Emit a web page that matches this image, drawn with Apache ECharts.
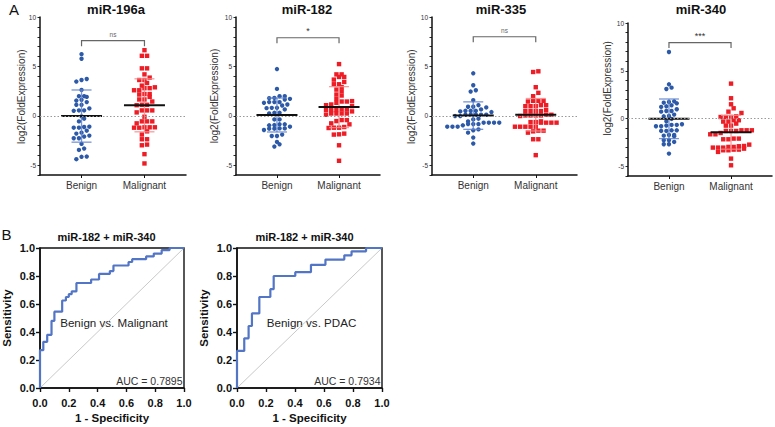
<!DOCTYPE html>
<html>
<head>
<meta charset="utf-8">
<script src="https://cdn.jsdelivr.net/npm/echarts@6/dist/echarts.min.js"></script>
<style>
html,body{margin:0;padding:0;background:#fff;}
#chart{width:775px;height:427px;}
</style>
</head>
<body>
<div id="chart"></div>
<script>
// ---------------- DATA ----------------
const categories = ['Benign', 'Malignant'];
const panelTitles = ['miR-196a', 'miR-182', 'miR-335', 'miR-340'];
const sigLabels = ['ns', '*', 'ns', '***'];
const sigLevels = [7.6, 7.9, 8.0, 7.95];
const yTickValues = [-5, 0, 5, 10];
const yMinorTickValues = [-6, -5, -4, -3, -2, -1, 0, 1, 2, 3, 4, 5, 6, 7, 8, 9, 10];
const yLabelText = 'log2(FoldExpression)';

const benign196a = [6.24, 5.77, 3.72, 3.46, 3.62, 2.62, 1.98, 1.98, 1.91, 1.54, 1.61, 1.38, 1.11, 1.11, 0.74, 0.54, 0.50, 0.54,
  -0.07, -0.30, -0.57, -1.14, -1.21, -1.21, -1.11, -1.51, -1.71, -1.81, -2.01, -2.28, -2.28, -2.11, -2.85, -3.32, -3.46, -4.13, -4.16, -4.40];
const malignant196a = [6.64, 6.07, 6.07, 4.80, 4.80, 4.19, 3.62, 3.86, 3.62, 3.32, 3.05, 2.88, 2.58, 2.79, 2.79, 2.58, 2.20, 2.20, 2.15,
  1.65, 1.91, 1.44, 1.65, 1.11, 1.11, 1.07, 0.54, 0.54, 0.54, 0.34, -0.10, -0.57, -0.57, -0.57, -1.21, -1.17, -1.17, -1.17, -0.77, -1.21,
  -1.58, -1.90, -2.38, -2.38, -2.92, -2.99, -3.89, -4.83];

const benign182 = [4.73, 2.72, 1.71, 1.81, 1.98, 1.78, 1.98, 1.64, 1.38, 1.38, 1.38, 1.31, 1.14, 0.80, 0.64, 1.04, 0.80, 0.77, 0.30, 0.23, 0.30,
  -0.37, -0.37, -0.87, -0.87, -0.97, -1.11, -0.94, -1.28, -1.28, -1.31, -1.44, -1.31, -2.05, -1.91, -2.05, -2.65, -2.89, -3.12];
const malignant182 = [5.23, 4.19, 4.19, 3.93, 3.93, 3.66, 3.42, 3.19, 3.19, 2.89, 2.65, 2.48, 2.15, 2.05, 1.71, 1.48, 1.44, 1.44, 1.31,
  1.14, 0.97, 1.07, 0.64, 0.64, 0.57, 0.57, 0.57, 0.44, 0.23, 0.23, 0.23, 0.10, 0.23, -0.44, -0.54, -0.44, -0.87, -0.77,
  -1.14, -1.21, -1.21, -1.24, -1.88, -1.81, -1.91, -2.99, -4.56];

const benign335 = [4.30, 3.09, 2.45, 2.58, 1.58, 0.91, 0.91, 1.07, 0.84, 0.50, 0.37, 0.50, 0.64, 0.50, 0.44, 0.10, 0.10, -0.03, -0.03,
  0.10, 0.10, 0.10, -0.30, -0.57, -0.37, -0.84, -0.84, -0.70, -0.70, -0.70, -0.70, -0.97, -0.84, -1.11, -1.11, -1.38, -1.11,
  -1.48, -1.71, -2.21, -2.82];
const malignant335 = [4.43, 4.50, 2.89, 1.98, 2.32, 1.51, 1.51, 1.51, 1.44, 0.97, 1.07, 0.97, 0.97, 1.07, 0.47, 0.47, 0.47, 0.57, 0.47,
  0.10, 0.03, 0.03, -0.03, 0.03, 0.03, 0.10, -0.70, -0.70, -0.64, -0.57, -0.70, -0.64, -0.70, -1.11, -1.11, -1.11, -1.11, -1.11,
  -1.51, -1.58, -1.51, -1.71, -2.38, -2.38, -3.99];

const benign340 = [6.97, 3.59, 3.10, 3.24, 1.67, 1.81, 1.60, 1.74, 1.39, 1.22, 1.29, 0.98, 0.80, 0.80, 0.73, 0.28, 0.42, 0.24,
  -0.59, -0.80, -0.80, -0.73, -0.66, -0.66, -0.28, -0.03, -1.22, -1.22, -1.29, -1.29, -1.71, -1.71, -1.78, -1.85, -2.26, -2.26,
  -2.68, -2.68, -2.44, -3.66];
const malignant340 = [3.66, 2.13, 1.50, 1.08, 0.73, 0.59, 0.24, 0.17, 0.17, 0.17, -0.31, -0.17, -0.31, -0.17, -0.52, -0.73, -0.73,
  -1.22, -1.29, -1.29, -1.22, -1.29, -1.22, -1.64, -1.64, -1.50, -2.09, -2.16, -2.09, -2.16,
  -2.86, -2.96, -3.03, -2.96, -3.03, -3.14, -3.03, -2.72, -2.89, -3.24, -3.31, -3.24, -3.48, -3.31, -4.18, -4.88];

const benignSets = [benign196a, benign182, benign335, benign340];
const malignantSets = [malignant196a, malignant182, malignant335, malignant340];

// ROC curves (1 - specificity, sensitivity) at each step corner
const rocFpr1 = [0, 0, 0.023, 0.05, 0.08, 0.10, 0.154, 0.18, 0.20, 0.22, 0.253, 0.355, 0.41, 0.485, 0.51, 0.615, 0.64, 0.737, 0.79, 0.845, 0.90, 1.0];
const rocTpr1 = [0, 0.27, 0.33, 0.38, 0.48, 0.545, 0.625, 0.65, 0.67, 0.69, 0.75, 0.775, 0.815, 0.835, 0.875, 0.90, 0.92, 0.94, 0.96, 0.985, 1.0, 1.0];
const rocFpr2 = [0, 0, 0.05, 0.08, 0.103, 0.154, 0.23, 0.253, 0.402, 0.51, 0.61, 0.74, 0.79, 0.89, 1.0];
const rocTpr2 = [0, 0.265, 0.355, 0.443, 0.533, 0.65, 0.706, 0.80, 0.827, 0.88, 0.917, 0.948, 0.976, 1.0, 1.0];
const rocTitles = ['miR-182 + miR-340', 'miR-182 + miR-340'];
const rocLabels = ['Benign vs. Malignant', 'Benign vs. PDAC'];
const aucTexts = ['AUC = 0.7895', 'AUC = 0.7934'];
const rocTickStep = 0.2;

// ---------------- HELPERS ----------------
const FONT = '"Liberation Sans", Arial, Helvetica, sans-serif';
const BLUE = '#2d5aa8';
const RED = '#ee1c25';
const SP = 5.2; // px between swarm columns

function swarmOffsets(values, binH) {
  const idx = values.map((v, i) => i).sort((a, b) => values[a] - values[b]);
  const res = new Array(values.length);
  let i = 0;
  while (i < idx.length) {
    let j = i;
    const start = values[idx[i]];
    while (j < idx.length && values[idx[j]] - start < binH) j++;
    const n = j - i;
    for (let k = 0; k < n; k++) res[idx[i + k]] = k - (n - 1) / 2;
    i = j;
  }
  return res;
}
function mean(a) { return a.reduce((s, v) => s + v, 0) / a.length; }
function sd(a) { const m = mean(a); return Math.sqrt(a.reduce((s, v) => s + (v - m) * (v - m), 0) / (a.length - 1)); }

const scatterGrids = [
  { left: 40, top: 17, width: 146, height: 158 },
  { left: 236, top: 17, width: 144, height: 158 },
  { left: 432, top: 17, width: 145, height: 158 },
  { left: 628, top: 23, width: 144, height: 153 }
];
const rocGrids = [
  { left: 39, top: 248, width: 145, height: 140 },
  { left: 237, top: 248, width: 145, height: 140 }
];

const grid = [], xAxis = [], yAxis = [], series = [], graphic = [];

scatterGrids.forEach((g, p) => {
  grid.push(Object.assign({ containLabel: false }, g));
  xAxis.push({
    type: 'value', gridIndex: p, min: -0.66, max: 1.66, position: 'bottom',
    axisLine: { show: true, onZero: false, lineStyle: { color: '#111', width: 1.5 } },
    axisTick: { show: true, customValues: [0, 1], length: 3, lineStyle: { color: '#111', width: 1 } },
    axisLabel: { show: true, customValues: [0, 1], formatter: v => categories[Math.round(v)], fontSize: 10, color: '#333', fontFamily: FONT, margin: 5 },
    splitLine: { show: false }
  });
  yAxis.push({
    type: 'value', gridIndex: p, min: -6, max: 10, position: 'left',
    axisLine: { show: true, onZero: false, lineStyle: { color: '#111', width: 1.5 } },
    axisTick: { show: true, customValues: yMinorTickValues, length: 2.5, lineStyle: { color: '#111', width: 0.9 } },
    axisLabel: { show: true, customValues: yTickValues, fontSize: 6.5, color: '#333', fontFamily: FONT, margin: 4 },
    splitLine: { show: false }
  });
  const yi = p;
  const sets = [benignSets[p], malignantSets[p]];
  const dotData = [];
  sets.forEach((vals, gi) => {
    const offs = swarmOffsets(vals, 0.42);
    vals.forEach((v, i) => dotData.push([gi, v, offs[i]]));
  });
  series.push({
    type: 'custom', xAxisIndex: p, yAxisIndex: yi, silent: true, z: 2,
    encode: { x: 0, y: 1 },
    data: dotData,
    renderItem: (params, api) => {
      const gi = api.value(0);
      const pt = api.coord([gi, api.value(1)]);
      const x = pt[0] + api.value(2) * SP;
      if (gi === 0) {
        return { type: 'circle', shape: { cx: x, cy: pt[1], r: 2.2 }, style: { fill: BLUE } };
      }
      return { type: 'rect', shape: { x: x - 2.2, y: pt[1] - 2.2, width: 4.4, height: 4.4 }, style: { fill: RED } };
    },
    markLine: {
      silent: true, symbol: ['none', 'none'], label: { show: false },
      lineStyle: { type: [1.5, 2], color: '#999', width: 1 },
      data: [{ yAxis: 0 }], animation: false
    }
  });
  const statData = sets.map((vals, gi) => [gi, mean(vals), sd(vals)]);
  series.push({
    type: 'custom', xAxisIndex: p, yAxisIndex: yi, silent: true, z: 3,
    encode: { x: 0, y: 1 },
    data: statData,
    renderItem: (params, api) => {
      const gi = api.value(0), m = api.value(1), s = api.value(2);
      const c = api.coord([gi, m]);
      const top = api.coord([gi, m + s]);
      const bot = api.coord([gi, m - s]);
      const ec = gi === 0 ? 'rgba(95,130,205,0.85)' : 'rgba(245,140,140,0.85)';
      return {
        type: 'group', children: [
          { type: 'line', shape: { x1: c[0], y1: top[1], x2: c[0], y2: bot[1] }, style: { stroke: ec, lineWidth: 1.3 } },
          { type: 'line', shape: { x1: c[0] - 10, y1: top[1], x2: c[0] + 10, y2: top[1] }, style: { stroke: ec, lineWidth: 1.3 } },
          { type: 'line', shape: { x1: c[0] - 10, y1: bot[1], x2: c[0] + 10, y2: bot[1] }, style: { stroke: ec, lineWidth: 1.3 } },
          { type: 'line', shape: { x1: c[0] - 20.5, y1: c[1], x2: c[0] + 20.5, y2: c[1] }, style: { stroke: '#111', lineWidth: 2 } }
        ]
      };
    }
  });
  series.push({
    type: 'custom', xAxisIndex: p, yAxisIndex: yi, silent: true, z: 3,
    encode: { x: [0, 1], y: 2 },
    data: [[0, 1, sigLevels[p]]],
    renderItem: (params, api) => {
      const a = api.coord([api.value(0), api.value(2)]);
      const b = api.coord([api.value(1), api.value(2)]);
      const lab = sigLabels[p];
      const star = lab.indexOf('*') >= 0;
      return {
        type: 'group', children: [
          { type: 'polyline', shape: { points: [[a[0], a[1] + 5.5], [a[0], a[1]], [b[0], b[1]], [b[0], b[1] + 5.5]] }, style: { stroke: '#666', lineWidth: 1.2, fill: null } },
          { type: 'text', style: { text: lab, x: (a[0] + b[0]) / 2, y: a[1] - (star ? 2 : 6.5), align: 'center', verticalAlign: star ? 'bottom' : 'middle', fontSize: star ? 9 : 6.5, fill: star ? '#333' : '#666', fontFamily: FONT } }
        ]
      };
    }
  });
});

const yLabelPos = [[21, 96.7], [214, 96], [411, 96.7], [607.7, 88.3]];
const titlePos = [[116, 9.5], [307, 9.5], [501, 9.5], [701, 9]];
panelTitles.forEach((t, p) => {
  graphic.push({ type: 'text', x: titlePos[p][0], y: titlePos[p][1], style: { text: t, align: 'center', verticalAlign: 'middle', font: 'bold 13px ' + FONT, fill: '#111' } });
  graphic.push({ type: 'text', x: yLabelPos[p][0], y: yLabelPos[p][1], rotation: Math.PI / 2, style: { text: yLabelText, align: 'center', verticalAlign: 'middle', font: '10px ' + FONT, fill: '#333' } });
});
graphic.push({ type: 'text', x: 9, y: 9, style: { text: 'A', align: 'left', verticalAlign: 'middle', font: '15px ' + FONT, fill: '#111' } });
graphic.push({ type: 'text', x: 1.5, y: 234, style: { text: 'B', align: 'left', verticalAlign: 'middle', font: '15px ' + FONT, fill: '#111' } });

const rocSets = [[rocFpr1, rocTpr1], [rocFpr2, rocTpr2]];
rocGrids.forEach((g, r) => {
  const gi = scatterGrids.length + r;
  grid.push(Object.assign({ show: true, borderColor: '#111', borderWidth: 1.4, backgroundColor: 'transparent' }, g));
  const common = {
    type: 'value', gridIndex: gi, min: 0, max: 1, interval: rocTickStep,
    axisTick: { show: true, length: 4, lineStyle: { color: '#111', width: 1.4 } },
    axisLabel: { formatter: v => v.toFixed(1), fontSize: 11, fontWeight: 'bold', color: '#111', fontFamily: FONT, margin: 5 },
    splitLine: { show: false },
    nameLocation: 'middle',
    nameTextStyle: { fontSize: 11.5, fontWeight: 'bold', color: '#111', fontFamily: FONT }
  };
  xAxis.push(Object.assign({}, common, {
    name: '1 - Specificity', nameGap: 24, position: 'bottom',
    axisLine: { show: true, onZero: false, lineStyle: { color: '#111', width: 1.6 } },
    axisLabel: Object.assign({}, common.axisLabel, { margin: 9 })
  }));
  yAxis.push(Object.assign({}, common, {
    name: 'Sensitivity', nameGap: 27, position: 'left',
    axisLine: { show: true, onZero: false, lineStyle: { color: '#111', width: 1.6 } }
  }));
  const xi = xAxis.length - 1, yi = yAxis.length - 1;
  series.push({
    type: 'line', xAxisIndex: xi, yAxisIndex: yi, silent: true, showSymbol: false,
    data: [[0, 0], [1, 1]], lineStyle: { color: '#bbb', width: 0.8 }, z: 2
  });
  const [fx, ty] = rocSets[r];
  series.push({
    type: 'line', xAxisIndex: xi, yAxisIndex: yi, silent: true, showSymbol: false, step: 'end',
    data: fx.map((v, i) => [v, ty[i]]), lineStyle: { color: '#5275c6', width: 2.2 }, z: 3
  });
  const cx = g.left + g.width / 2;
  graphic.push({ type: 'text', x: cx - 5, y: 237, style: { text: rocTitles[r], align: 'center', verticalAlign: 'middle', font: 'bold 11px ' + FONT, fill: '#111' } });
  graphic.push({ type: 'text', x: cx + (r === 0 ? 2.5 : 2), y: 322, style: { text: rocLabels[r], align: 'center', verticalAlign: 'middle', font: '11.6px ' + FONT, fill: '#222' } });
  graphic.push({ type: 'text', x: g.left + g.width - 1.5, y: 381, style: { text: aucTexts[r], align: 'right', verticalAlign: 'middle', font: '10.5px ' + FONT, fill: '#333' } });
});

const chart = echarts.init(document.getElementById('chart'), null, { renderer: 'svg', width: 775, height: 427 });
chart.setOption({
  animation: false,
  backgroundColor: '#fff',
  textStyle: { fontFamily: FONT },
  grid, xAxis, yAxis, series, graphic
});
</script>
</body>
</html>
